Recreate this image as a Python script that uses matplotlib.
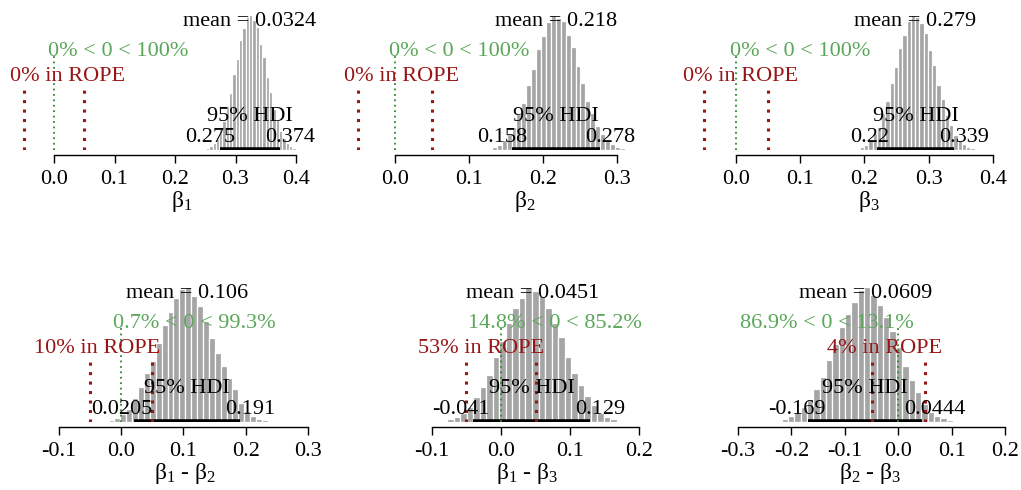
import numpy as np
import matplotlib
matplotlib.use('Agg')
import matplotlib.pyplot as plt
from matplotlib import transforms

plt.rcParams['font.family'] = ['Liberation Serif', 'DejaVu Serif']
plt.rcParams['mathtext.fontset'] = 'custom'
plt.rcParams['mathtext.rm'] = 'Liberation Serif'
plt.rcParams['mathtext.it'] = 'Liberation Serif'
plt.rcParams['axes.unicode_minus'] = False

# --- data ---
xlabels = [r'$\beta_1$', r'$\beta_2$', r'$\beta_3$',
           r'$\beta_1$ - $\beta_2$', r'$\beta_1$ - $\beta_3$', r'$\beta_2$ - $\beta_3$']
means = [0.324, 0.218, 0.279, 0.106, 0.0451, -0.0609]
mean_labels = ['0.0324', '0.218', '0.279', '0.106', '0.0451', '0.0609']
hdi_lo = [0.275, 0.158, 0.22, 0.0205, -0.041, -0.169]
hdi_hi = [0.374, 0.278, 0.339, 0.191, 0.129, 0.0444]
hdi_lo_labels = ['0.275', '0.158', '0.22', '0.0205', '-0.041', '-0.169']
hdi_hi_labels = ['0.374', '0.278', '0.339', '0.191', '0.129', '0.0444']
pct_below = [0, 0, 0, 0.7, 14.8, 86.9]
pct_above = [100, 100, 100, 99.3, 85.2, 13.1]
pct_rope = [0, 0, 0, 10, 53, 4]
rope = [-0.05, 0.05]
sample_min = [0.251, 0.131, 0.193, -0.020, -0.078, -0.218]

counts = [
    [2, 4, 7, 11, 20, 28, 43, 55, 74, 88, 107, 118, 129, 131, 126, 119, 103, 90, 71, 56, 40, 29, 18, 12, 7, 4, 2],
    [3, 5, 10, 16, 23, 36, 47, 65, 80, 100, 113, 127, 134, 131, 128, 114, 102, 83, 67, 49, 37, 24, 16, 9, 6, 3, 2],
    [3, 5, 10, 17, 23, 37, 49, 67, 83, 102, 115, 129, 135, 133, 127, 117, 100, 85, 65, 51, 35, 25, 15, 10, 6, 3, 2],
    [2, 4, 8, 13, 24, 36, 50, 62, 80, 98, 112, 126, 135, 137, 128, 118, 103, 85, 70, 57, 45, 33, 19, 11, 6, 3, 2],
    [3, 5, 9, 15, 25, 36, 48, 66, 82, 101, 116, 126, 137, 133, 128, 116, 101, 86, 66, 50, 38, 26, 17, 9, 5, 3],
    [3, 6, 10, 15, 23, 33, 45, 62, 78, 95, 108, 120, 132, 135, 127, 117, 105, 91, 75, 56, 42, 30, 18, 10, 6, 4, 2],
]
ticks = [
    [0.0, 0.1, 0.2, 0.3, 0.4],
    [0.0, 0.1, 0.2, 0.3],
    [0.0, 0.1, 0.2, 0.3, 0.4],
    [-0.1, 0.0, 0.1, 0.2, 0.3],
    [-0.1, 0.0, 0.1, 0.2],
    [-0.3, -0.2, -0.1, 0.0, 0.1, 0.2],
]

# --- layout (pixels) ---
W, H = 1021, 490
zero_px = [54, 395, 735.7, 121, 501, 898.3]
px_per_unit = [605, 739, 643, 623, 692, 535]
base_px = [150, 150, 150, 422, 422, 422]
xlims = [(-0.08, 0.45), (-0.065, 0.33), (-0.07, 0.42), (-0.18, 0.34), (-0.16, 0.25), (-0.40, 0.22)]
label_xy = [(182, 201), (525, 201), (869, 201), (185, 473), (527, 473), (870, 473)]
rope_text_x = [0.023, 0.0095, 0.007, -0.038, -0.029, -0.025]
ax_h = 139
fs = 16

bar_col = '#a5a5a5'
rope_col = '#981515'
cv_text_col = '#5aa75a'
cv_line_col = '#2d8a2d'

fig = plt.figure(figsize=(W / 100, H / 100), dpi=100)
renderer = fig.canvas.get_renderer()


def frac_text(ax, x, y, s, frac, dy=0, **kw):
    # R-style fractional horizontal adjustment
    t = ax.text(x, y, s, ha='left', va='baseline', **kw)
    w = t.get_window_extent(renderer).width
    t.set_transform(ax.transData + transforms.ScaledTranslation(
        -frac * w / fig.dpi, dy / 72.0, fig.dpi_scale_trans))
    return t


for i in range(6):
    x0, x1 = xlims[i]
    left = zero_px[i] + x0 * px_per_unit[i]
    width = (x1 - x0) * px_per_unit[i]
    ax = fig.add_axes([left / W, 1 - base_px[i] / H, width / W, ax_h / H])

    c = np.array(counts[i])
    bw = (hdi_hi[i] - hdi_lo[i]) / 18
    centers = sample_min[i] + bw * (np.arange(len(c)) + 0.5)
    ax.bar(centers, c, width=bw, color=bar_col, edgecolor='white', linewidth=0.9)
    m = c.max()
    ax.set_xlim(x0, x1)
    ax.set_ylim(0, m * 1.03)

    # HDI
    ax.plot([hdi_lo[i], hdi_hi[i]], [0, 0], color='black', lw=4, solid_capstyle='butt')
    ax.annotate('95% HDI', xy=((hdi_lo[i] + hdi_hi[i]) / 2, 0), xytext=(0, 21),
                textcoords='offset points', ha='center', va='baseline', fontsize=fs)
    frac_text(ax, hdi_lo[i], 0, hdi_lo_labels[i], 0.7, dy=6, fontsize=fs)
    frac_text(ax, hdi_hi[i], 0, hdi_hi_labels[i], 0.3, dy=6, fontsize=fs)

    # mean
    ax.text(means[i], 0.92 * m, 'mean = ' + mean_labels[i], ha='center', va='baseline', fontsize=fs)

    # comparison value
    ax.plot([0, 0], [0, 0.70 * m], color=cv_line_col, lw=1.3, dashes=(1, 2))
    frac_text(ax, 0, 0.70 * m, '%g%% < 0 < %g%%' % (pct_below[i], pct_above[i]),
              pct_below[i] / 100 + 0.04, fontsize=fs, color=cv_text_col)

    # ROPE
    for r in rope:
        ax.plot([r, r], [0, 0.48 * m], color=rope_col, lw=2.2, dashes=(1, 2.1))
    ax.text(rope_text_x[i], 0.51 * m, '%g%% in ROPE' % pct_rope[i], ha='center',
            va='baseline', fontsize=fs, color=rope_col)

    # axis
    for s in ['left', 'top', 'right']:
        ax.spines[s].set_visible(False)
    ax.spines['bottom'].set_position(('outward', 3.5))
    ax.spines['bottom'].set_bounds(ticks[i][0], ticks[i][-1])
    ax.spines['bottom'].set_linewidth(1)
    ax.set_yticks([])
    ax.set_xticks(ticks[i])
    ax.set_xticklabels(['%.1f' % t for t in ticks[i]])
    ax.tick_params(axis='x', direction='out', length=6, width=1, labelsize=fs, pad=5)
    ax.patch.set_visible(False)

    lx, ly = label_xy[i]
    fig.text(lx / W, 1 - ly / H, xlabels[i], ha='center', va='center', fontsize=fs + 1)

fig.savefig('out.png', dpi=100)
